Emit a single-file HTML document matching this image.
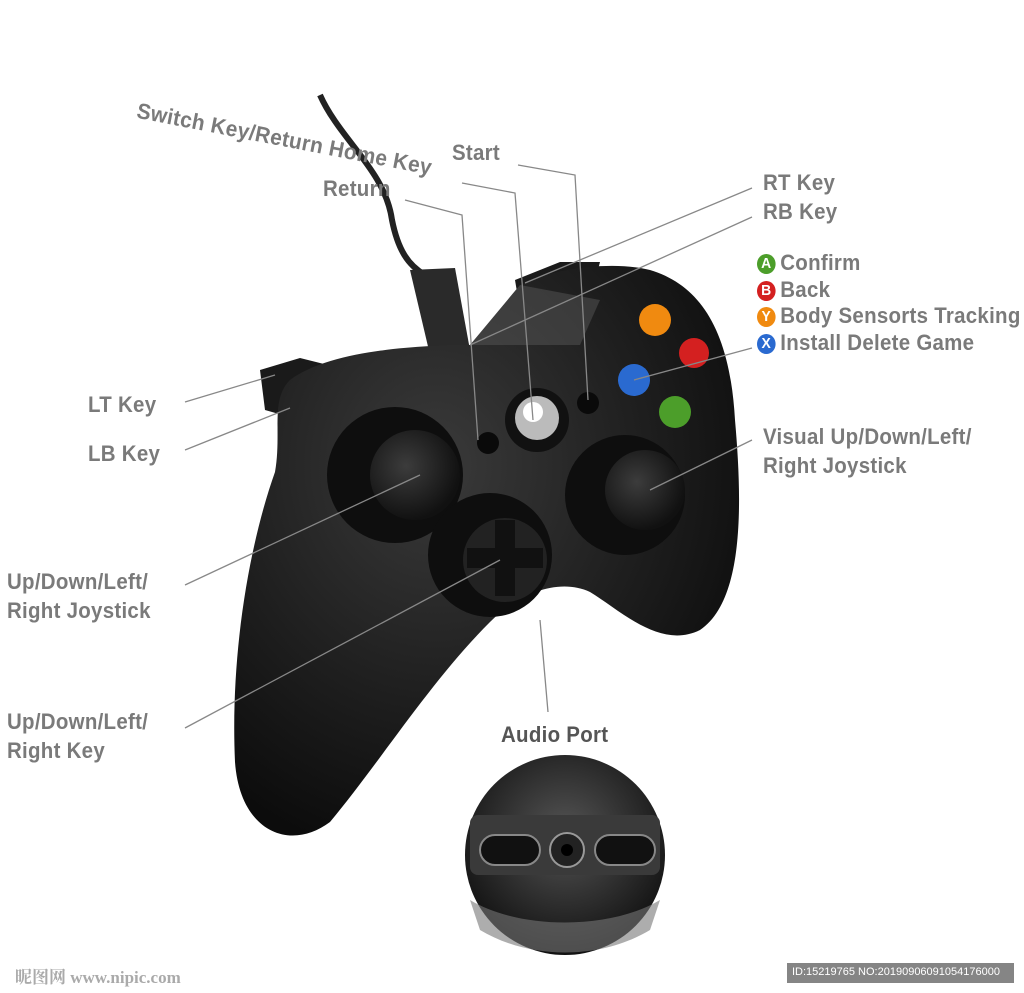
<!DOCTYPE html>
<html><head><meta charset="utf-8"><style>
html,body{margin:0;padding:0;background:#fff;}
body{width:1024px;height:993px;position:relative;overflow:hidden;font-family:"Liberation Sans",sans-serif;}
.t{position:absolute;color:#7a7a7a;font-size:22px;font-weight:bold;line-height:29px;white-space:nowrap;letter-spacing:0.3px;transform:scaleX(0.93);transform-origin:left top;}
.c{display:inline-block;width:20px;height:20px;border-radius:50%;color:#fff;font-size:15px;line-height:20px;text-align:center;margin-right:5px;vertical-align:2px;}
</style></head><body>
<svg width="1024" height="993" style="position:absolute;left:0;top:0">
<defs>
<radialGradient id="body" cx="0.4" cy="0.35" r="0.7"><stop offset="0" stop-color="#3a3a3a"/><stop offset="0.6" stop-color="#1e1e1e"/><stop offset="1" stop-color="#0c0c0c"/></radialGradient>
<radialGradient id="stk" cx="0.4" cy="0.4" r="0.6"><stop offset="0" stop-color="#3c3c3c"/><stop offset="1" stop-color="#111"/></radialGradient>
<radialGradient id="ins" cx="0.5" cy="0.4" r="0.6"><stop offset="0" stop-color="#555"/><stop offset="1" stop-color="#111"/></radialGradient>
</defs>
<path d="M320,95 C340,140 385,170 392,220 C398,250 408,265 425,275" stroke="#222" stroke-width="6" fill="none"/>
<path d="M410,270 L455,268 L470,350 L430,355 Z" fill="#2a2a2a"/>
<path d="M260,370 L300,358 L340,368 L300,420 L265,410 Z" fill="#1a1a1a"/>
<path d="M515,280 L560,262 L600,262 L590,300 L520,310 Z" fill="#1a1a1a"/>
<path d="M290,380 C330,350 420,345 470,345 L520,285 C560,265 620,262 650,270 C700,285 730,330 735,420 C742,500 745,600 700,630 C660,650 620,610 590,592 C560,578 520,592 490,622 C430,682 380,762 330,822 C290,852 240,832 235,762 C230,652 250,542 275,472 C282,432 270,400 290,380 Z" fill="url(#body)"/>
<path d="M470,345 L520,285 L600,300 L580,345 Z" fill="#555" opacity="0.5"/>
<circle cx="395" cy="475" r="68" fill="#0e0e0e"/>
<circle cx="415" cy="475" r="45" fill="url(#stk)"/>
<circle cx="490" cy="555" r="62" fill="#0e0e0e"/>
<circle cx="505" cy="560" r="42" fill="#222"/>
<path d="M495,520 h20 v28 h28 v20 h-28 v28 h-20 v-28 h-28 v-20 h28z" fill="#111"/>
<circle cx="625" cy="495" r="60" fill="#0e0e0e"/>
<circle cx="645" cy="490" r="40" fill="url(#stk)"/>
<circle cx="537" cy="420" r="32" fill="#111"/>
<circle cx="537" cy="418" r="22" fill="#bbb"/>
<circle cx="533" cy="412" r="10" fill="#fff"/>
<circle cx="488" cy="443" r="11" fill="#0a0a0a"/>
<circle cx="588" cy="403" r="11" fill="#0a0a0a"/>
<circle cx="655" cy="320" r="16" fill="#f08a10"/>
<circle cx="694" cy="353" r="15" fill="#d42020"/>
<circle cx="634" cy="380" r="16" fill="#2a6ad0"/>
<circle cx="675" cy="412" r="16" fill="#4c9e2a"/>
<g stroke="#888" stroke-width="1.3" fill="none">
<polyline points="405,200 462,215 478,440"/>
<polyline points="462,183 515,193 533,420"/>
<polyline points="518,165 575,175 588,400"/>
<line x1="752" y1="188" x2="525" y2="283"/>
<line x1="752" y1="217" x2="470" y2="345"/>
<line x1="752" y1="348" x2="634" y2="380"/>
<line x1="752" y1="440" x2="650" y2="490"/>
<line x1="185" y1="402" x2="275" y2="375"/>
<line x1="185" y1="450" x2="290" y2="408"/>
<line x1="185" y1="585" x2="420" y2="475"/>
<line x1="185" y1="728" x2="500" y2="560"/>
<line x1="540" y1="620" x2="548" y2="712"/>
</g>
<circle cx="565" cy="855" r="100" fill="url(#ins)"/>
<rect x="470" y="815" width="190" height="60" rx="8" fill="#3a3a3a"/>
<rect x="480" y="835" width="60" height="30" rx="15" fill="#111" stroke="#888" stroke-width="2"/>
<rect x="595" y="835" width="60" height="30" rx="15" fill="#111" stroke="#888" stroke-width="2"/>
<circle cx="567" cy="850" r="17" fill="#222" stroke="#999" stroke-width="2"/>
<circle cx="567" cy="850" r="6" fill="#000"/>
<path d="M470,900 C520,930 610,930 660,900 L650,930 C600,960 530,960 480,930 Z" fill="#777" opacity="0.6"/>
<rect x="787" y="963" width="227" height="20" fill="#666" opacity="0.8"/>
</svg>
<div class="t" style="left:140px;top:96px;transform:rotate(11deg) scaleX(0.95);">Switch Key/Return Home Key</div>
<div class="t" style="left:323px;top:174px;">Return</div>
<div class="t" style="left:452px;top:138px;">Start</div>
<div class="t" style="left:763px;top:168px;">RT Key</div>
<div class="t" style="left:763px;top:197px;">RB Key</div>
<div class="t" style="left:757px;top:248px;"><span class="c" style="background:#4c9e2a">A</span>Confirm</div>
<div class="t" style="left:757px;top:275px;"><span class="c" style="background:#d42020">B</span>Back</div>
<div class="t" style="left:757px;top:301px;"><span class="c" style="background:#f08a10">Y</span>Body Sensorts Tracking</div>
<div class="t" style="left:757px;top:328px;"><span class="c" style="background:#2a6ad0">X</span>Install Delete Game</div>
<div class="t" style="left:763px;top:422px;">Visual Up/Down/Left/<br>Right Joystick</div>
<div class="t" style="left:88px;top:390px;">LT Key</div>
<div class="t" style="left:88px;top:439px;">LB Key</div>
<div class="t" style="left:7px;top:567px;">Up/Down/Left/<br>Right Joystick</div>
<div class="t" style="left:7px;top:707px;">Up/Down/Left/<br>Right Key</div>
<div class="t" style="left:501px;top:720px;color:#555;">Audio Port</div>
<div style="position:absolute;left:15px;top:963px;font-size:17px;color:#aaa;font-family:'Liberation Serif','Noto Serif CJK SC',serif;font-weight:bold;">昵图网 www.nipic.com</div>
<div style="position:absolute;left:792px;top:966px;font-size:11px;color:#fff;">ID:15219765 NO:20190906091054176000</div>
</body></html>
